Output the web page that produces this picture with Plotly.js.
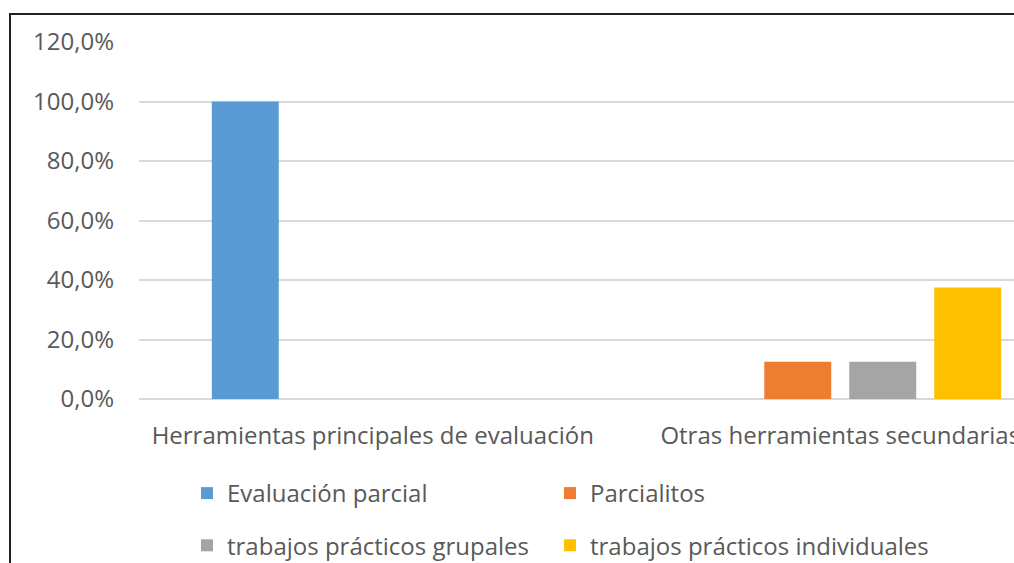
<!DOCTYPE html>
<html>
<head>
<meta charset="utf-8">
<script src="https://cdn.plot.ly/plotly-3.0.1.min.js"></script>
<style>
  html, body { margin: 0; padding: 0; overflow: hidden; background: #fff; }
  #frame { position: absolute; left: 9px; top: 13px; width: 2000px; height: 2000px;
           border-left: 2px solid #222; border-top: 2px solid #222; pointer-events: none; z-index: 2; }
  #chart { position: absolute; left: 0; top: 0; width: 1074px; height: 563px; }
</style>
</head>
<body>
<div id="frame"></div>
<div id="chart"></div>
<script>
// categories and series (percent)
const categories = ['Herramientas principales de evaluación', 'Otras herramientas secundarias'];
const seriesNames = ['Evaluación parcial', 'Parcialitos', 'trabajos prácticos grupales', 'trabajos prácticos individuales'];
const evaluacionParcial = [100, 0];
const parcialitos = [0, 12.5];
const tpGrupales = [0, 12.5];
const tpIndividuales = [0, 37.5];
const colors = ['#5b9bd5', '#ed7d31', '#a5a5a5', '#ffc000'];
const yTicks = [0, 20, 40, 60, 80, 100, 120];
const yTickText = ['0,0%', '20,0%', '40,0%', '60,0%', '80,0%', '100,0%', '120,0%'];

const values = [evaluacionParcial, parcialitos, tpGrupales, tpIndividuales];
const legendFor = ['legend', 'legend2', 'legend', 'legend2'];

const traces = values.map((v, i) => ({
    type: 'bar',
    name: seriesNames[i],
    x: categories,
    y: v,
    marker: { color: colors[i] },
    legend: legendFor[i],
    legendgroup: 'g' + i,
    hoverinfo: 'none'
}));

const textFont = { family: 'Open Sans, sans-serif', size: 24, color: '#595959' };
const legendBase = {
    orientation: 'v',
    xref: 'container', yref: 'container',
    xanchor: 'left', yanchor: 'top',
    y: 1 - 471 / 563,
    font: textFont,
    bgcolor: 'rgba(0,0,0,0)',
    tracegroupgap: 18,
    itemclick: false
};

const layout = {
    width: 1074,
    height: 563,
    margin: { l: 139, r: 0, t: 42, b: 164, autoexpand: false },
    paper_bgcolor: 'rgba(0,0,0,0)',
    plot_bgcolor: 'rgba(0,0,0,0)',
    barmode: 'group',
    bargap: 0.273,
    bargroupgap: 0.212,
    showlegend: true,
    xaxis: {
        type: 'category',
        showgrid: false,
        showline: false,
        zeroline: false,
        ticks: '',
        tickangle: 0,
        tickfont: textFont,
        ticklabelstandoff: 20,
        automargin: false,
        fixedrange: true
    },
    yaxis: {
        range: [0, 120],
        tickvals: yTicks,
        ticktext: yTickText,
        showgrid: true,
        gridcolor: '#d9d9d9',
        gridwidth: 2,
        zeroline: true,
        zerolinecolor: '#d9d9d9',
        zerolinewidth: 2,
        showline: false,
        ticks: '',
        tickfont: textFont,
        ticklabelstandoff: 24,
        automargin: false,
        fixedrange: true
    },
    legend: Object.assign({}, legendBase, { x: 187 / 1074 }),
    legend2: Object.assign({}, legendBase, { x: 550 / 1074 })
};

Plotly.newPlot('chart', traces, layout, { displayModeBar: false, staticPlot: true });
</script>
</body>
</html>
